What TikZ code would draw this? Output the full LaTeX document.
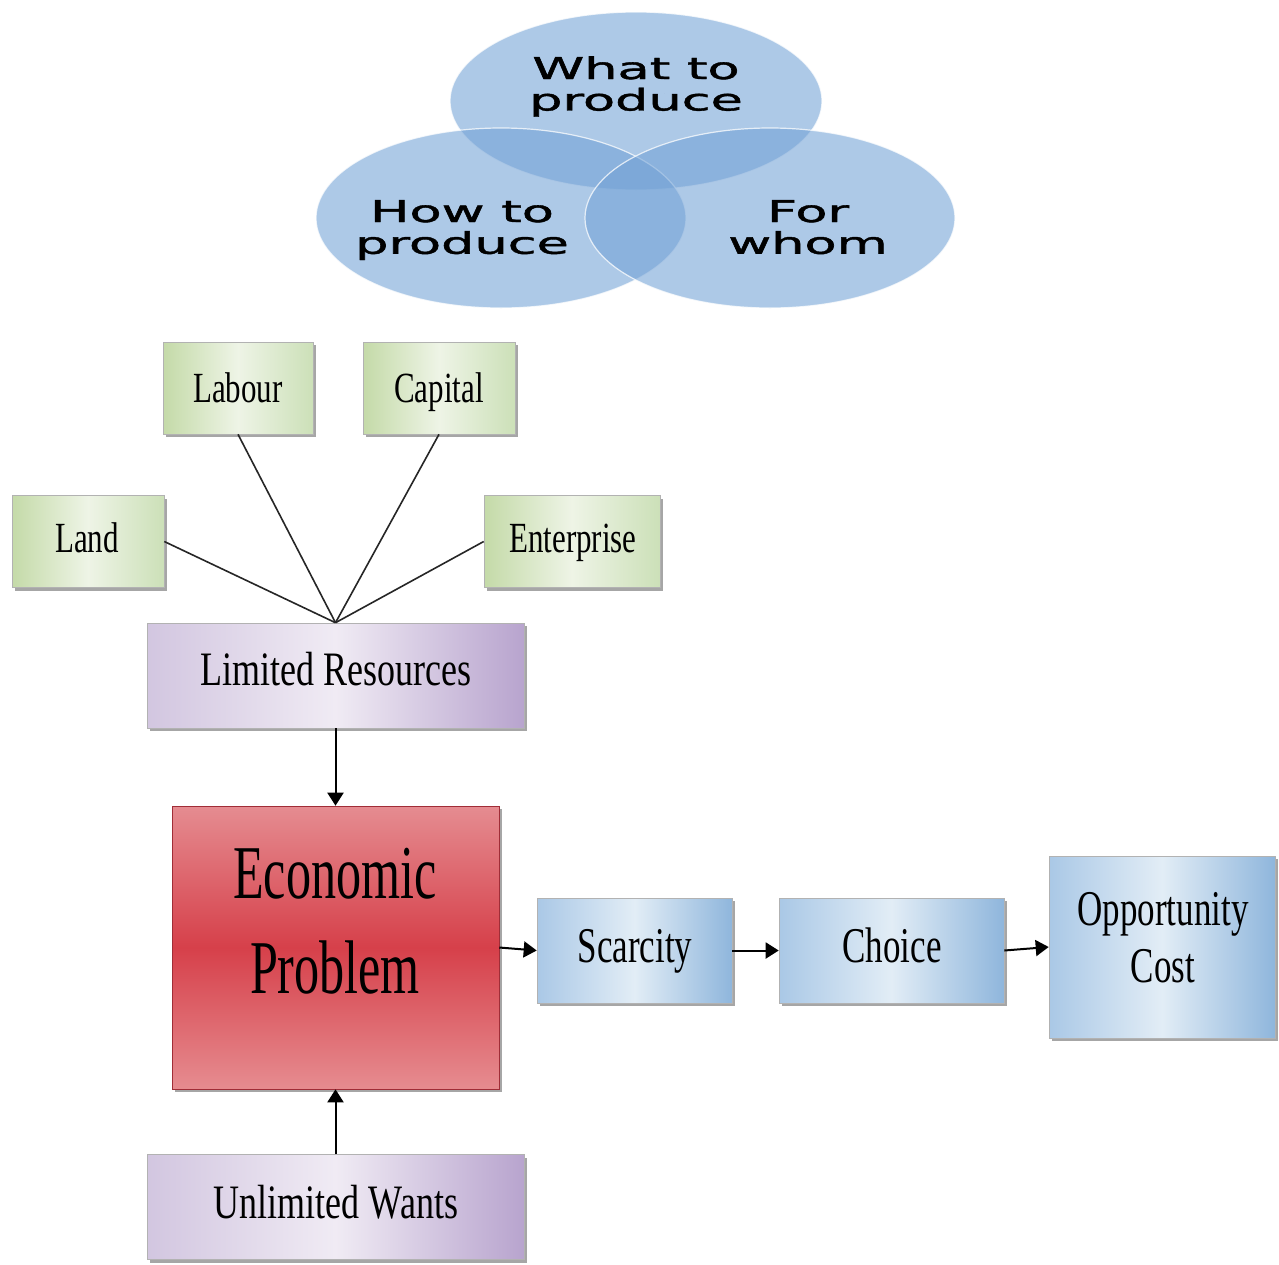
\documentclass[tikz,border=0pt]{standalone}
\usepackage{fontspec}
\setmainfont{Liberation Serif}
\newfontfamily\vennfont[FakeBold=1.2]{DejaVu Sans}
\usepackage{graphicx}
\usetikzlibrary{arrows.meta,shadows}
\definecolor{vennC}{RGB}{115,162,214}
\definecolor{grL}{RGB}{196,218,168}
\definecolor{grM}{RGB}{238,244,230}
\definecolor{grR}{RGB}{204,224,184}
\definecolor{puL}{RGB}{210,198,224}
\definecolor{puM}{RGB}{240,235,244}
\definecolor{puR}{RGB}{184,164,206}
\definecolor{blL}{RGB}{170,200,230}
\definecolor{blM}{RGB}{226,237,246}
\definecolor{blR}{RGB}{143,182,220}
\definecolor{rdT}{RGB}{229,140,145}
\definecolor{rdM}{RGB}{214,64,74}
\definecolor{rdB}{RGB}{230,140,144}
\definecolor{rdE}{RGB}{160,45,55}
\tikzset{
  box/.style={draw=black!30, line width=0.6pt, inner sep=0pt,
    drop shadow={shadow xshift=3pt, shadow yshift=-3pt, opacity=0.35, fill=black}},
  greenbox/.style={box, left color=grL, right color=grR, middle color=grM,
    minimum width=#1, minimum height=92pt},
  purplebox/.style={box, left color=puL, right color=puR, middle color=puM,
    minimum width=377pt, minimum height=105pt},
  bluebox/.style={box, left color=blL, right color=blR, middle color=blM,
    minimum width=#1},
  redbox/.style={box, draw=rdE, top color=rdT, bottom color=rdB, middle color=rdM,
    minimum width=327pt, minimum height=283pt},
  lbl/.style={anchor=base, inner sep=0pt, text=black},
  vennfill/.style={fill=vennC, fill opacity=0.58, draw=white, draw opacity=0.75, line width=1.2pt},
  conn/.style={line width=1.6pt, draw=black!85},
  arrowline/.style={line width=2pt, draw=black, -{Triangle[length=13pt,width=16pt]}}
}
\begin{document}
\begin{tikzpicture}[x=1pt,y=-1pt]
\useasboundingbox (0,0) rectangle (1279,1264);
\fill[white] (0,0) rectangle (1279,1264);

% Venn diagram
\path[vennfill] (636,101) ellipse [x radius=186pt, y radius=89pt];
\path[vennfill] (501,218) ellipse [x radius=185pt, y radius=90pt];
\path[vennfill] (770,218) ellipse [x radius=185pt, y radius=90pt];
\node[lbl] (whatT) at (636,79) {\scalebox{1.75}[1]{\vennfont\fontsize{30}{29}\selectfont\begin{tabular}[t]{@{}c@{}}What to\\produce\end{tabular}}};
\node[lbl] (howT) at (462,222) {\scalebox{1.75}[1]{\vennfont\fontsize{30}{30}\selectfont\begin{tabular}[t]{@{}c@{}}How to\\produce\end{tabular}}};
\node[lbl] (whomT) at (808,222) {\scalebox{1.75}[1]{\vennfont\fontsize{30}{30}\selectfont\begin{tabular}[t]{@{}c@{}}For\\whom\end{tabular}}};

% Factor boxes
\node[greenbox=150pt] (labour) at (238,388) {};
\node[greenbox=152pt] (capital) at (439,388) {};
\node[greenbox=152pt] (land) at (88,541.5) {};
\node[greenbox=176pt] (enter) at (572,541.5) {};
\node[purplebox] (lim) at (335.5,675.5) {};
\node[redbox] (econ) at (335.5,947.5) {};
\node[purplebox] (unl) at (335.5,1207) {};
\node[bluebox=195pt, minimum height=105pt] (scar) at (634.5,950.5) {};
\node[bluebox=225pt, minimum height=105pt] (choice) at (891.5,950.5) {};
\node[bluebox=226pt, minimum height=182pt] (opp) at (1162,947) {};

% Labels
\node[lbl] (labourT) at (238,402) {\scalebox{0.72}[1]{\fontsize{43}{50}\selectfont Labour}};
\node[lbl] (capitalT) at (439,402) {\scalebox{0.72}[1]{\fontsize{43}{50}\selectfont Capital}};
\node[lbl] (landT) at (87,552) {\scalebox{0.72}[1]{\fontsize{43}{50}\selectfont Land}};
\node[lbl] (enterT) at (573,552) {\scalebox{0.72}[1]{\fontsize{43}{50}\selectfont Enterprise}};
\node[lbl] (limT) at (336,685) {\scalebox{0.75}[1]{\fontsize{48}{56}\selectfont Limited Resources}};
\node[lbl] (econT) at (335,898) {\scalebox{0.66}[1]{\fontsize{76}{95}\selectfont\begin{tabular}[t]{@{}c@{}}Economic\\Problem\end{tabular}}};
\node[lbl] (unlT) at (336,1218) {\scalebox{0.75}[1]{\fontsize{48}{56}\selectfont Unlimited Wants}};
\node[lbl] (scarT) at (635,962) {\scalebox{0.70}[1]{\fontsize{50}{57}\selectfont Scarcity}};
\node[lbl] (choiceT) at (892,962) {\scalebox{0.70}[1]{\fontsize{50}{57}\selectfont Choice}};
\node[lbl] (oppT) at (1163,925) {\scalebox{0.70}[1]{\fontsize{50}{57}\selectfont\begin{tabular}[t]{@{}c@{}}Opportunity\\Cost\end{tabular}}};

% Connectors
\draw[conn] (land.east) -- (lim.north);
\draw[conn] (labour.south) -- (lim.north);
\draw[conn] (capital.south) -- (lim.north);
\draw[conn] (enter.west) -- (lim.north);
\draw[arrowline] (lim.south) -- (econ.north);
\draw[arrowline] (unl.north) -- (econ.south);
\draw[arrowline] (econ.east) -- (scar.west);
\draw[arrowline] (scar.east) -- (choice.west);
\draw[arrowline] (choice.east) -- (opp.west);
\end{tikzpicture}
\end{document}
